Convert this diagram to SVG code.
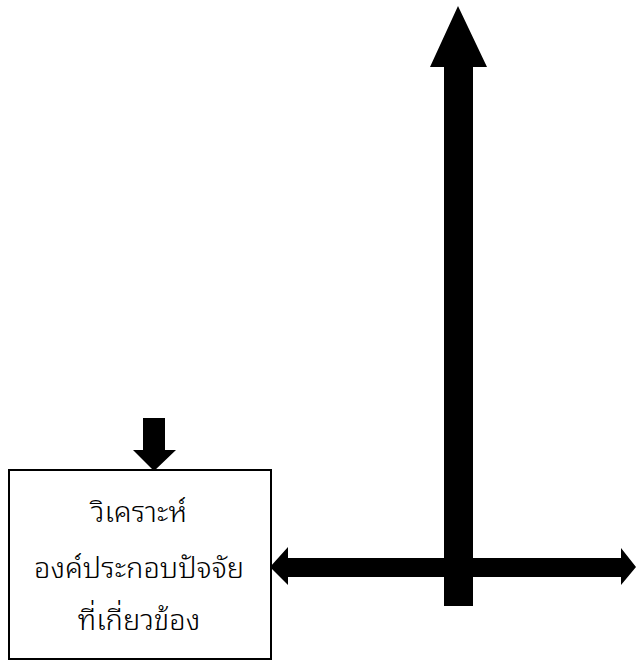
<svg xmlns="http://www.w3.org/2000/svg" width="636" height="662" viewBox="0 0 636 662">
<style>
.box{fill:#fff;stroke:#000;stroke-width:2}
.arr{fill:#000;stroke:none}
.t{font-family:"Noto Sans Thai Looped","Noto Sans Thai","Noto Sans","Liberation Sans",sans-serif;font-size:29px;font-weight:300;fill:#000;text-anchor:middle}
</style>
<rect width="636" height="662" fill="#fff"/>
<g id="connectors">
<polygon class="arr" points="444,606 473,606 473,67 487,67 458,6 430,67 444,67"/>
<polygon class="arr" points="270,567 288,547 288,558 621,558 621,548 636,567 621,585 621,577 288,577 288,585"/>
</g>
<g id="node-analyze">
<rect class="box" x="9" y="470" width="262" height="189"/>
<text class="t" x="139" y="522">วิเคราะห์</text>
<text class="t" x="139" y="578">องค์ประกอบปัจจัย</text>
<text class="t" x="139" y="630">ที่เกี่ยวข้อง</text>
</g>
<g id="connector-in">
<polygon class="arr" points="143,418 165,418 165,450 176,450 154,471 133,450 143,450"/>
</g>
</svg>
